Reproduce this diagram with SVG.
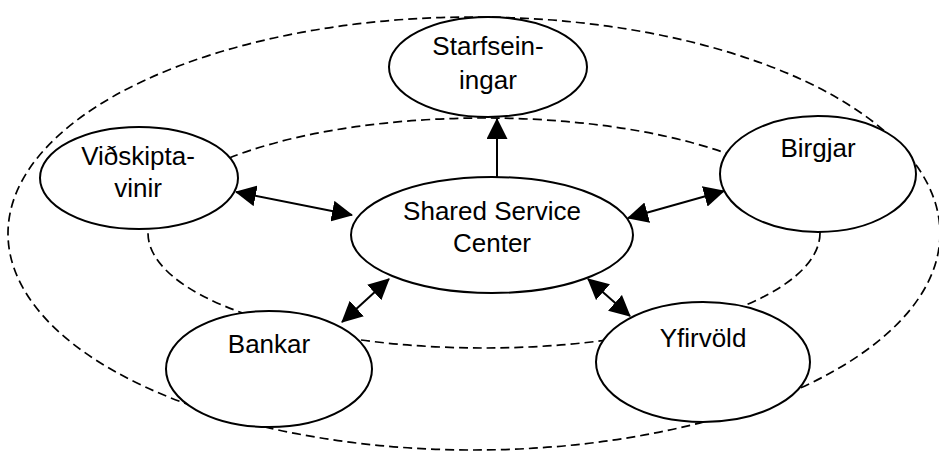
<svg xmlns="http://www.w3.org/2000/svg" width="939" height="451" viewBox="0 0 939 451">
  <style>
    .ring { fill: none; stroke: #000; stroke-width: 1.7; stroke-dasharray: 9 5; }
    .node ellipse { fill: #fff; stroke: #000; stroke-width: 2; }
    .node text { font-family: "Liberation Sans", Arial, sans-serif; font-size: 26px; fill: #000; text-anchor: middle; }
    .link { stroke: #000; stroke-width: 2; fill: none; }
  </style>
  <defs>
    <marker id="head" viewBox="0 0 21 21" refX="20" refY="10.5" markerWidth="21" markerHeight="21" markerUnits="userSpaceOnUse" orient="auto-start-reverse">
      <path d="M0,0 L21,10.5 L0,21 z" fill="#000"/>
    </marker>
  </defs>

  <rect width="939" height="451" fill="#fff"/>

  <!-- dashed rings -->
  <g id="rings">
    <ellipse class="ring" cx="474" cy="233.5" rx="466" ry="216.5"/>
    <ellipse class="ring" cx="484" cy="233" rx="336" ry="115"/>
  </g>

  <!-- connectors -->
  <g id="connectors">
    <line class="link" x1="497" y1="177" x2="497" y2="119" marker-end="url(#head)"/>
    <line class="link" x1="236" y1="192" x2="352" y2="215" marker-start="url(#head)" marker-end="url(#head)"/>
    <line class="link" x1="628" y1="218" x2="724" y2="191" marker-start="url(#head)" marker-end="url(#head)"/>
    <line class="link" x1="389" y1="279" x2="342" y2="322" marker-start="url(#head)" marker-end="url(#head)"/>
    <line class="link" x1="588" y1="279" x2="630" y2="316" marker-start="url(#head)" marker-end="url(#head)"/>
  </g>

  <!-- nodes -->
  <g id="starfseiningar" class="node">
    <ellipse cx="488" cy="67" rx="99" ry="50"/>
    <text x="488" y="55">Starfsein-</text>
    <text x="488" y="89">ingar</text>
  </g>
  <g id="vidskiptavinir" class="node">
    <ellipse cx="139" cy="178" rx="99" ry="51"/>
    <text x="138" y="165">Viðskipta-</text>
    <text x="138" y="197">vinir</text>
  </g>
  <g id="birgjar" class="node">
    <ellipse cx="818" cy="174" rx="98" ry="58"/>
    <text x="818" y="157">Birgjar</text>
  </g>
  <g id="ssc" class="node">
    <ellipse cx="492" cy="235" rx="141" ry="58"/>
    <text x="492" y="220">Shared Service</text>
    <text x="492" y="252">Center</text>
  </g>
  <g id="bankar" class="node">
    <ellipse cx="269" cy="369" rx="103" ry="58"/>
    <text x="269" y="353">Bankar</text>
  </g>
  <g id="yfirvold" class="node">
    <ellipse cx="703" cy="362" rx="107" ry="60"/>
    <text x="703" y="347">Yfirvöld</text>
  </g>
</svg>
